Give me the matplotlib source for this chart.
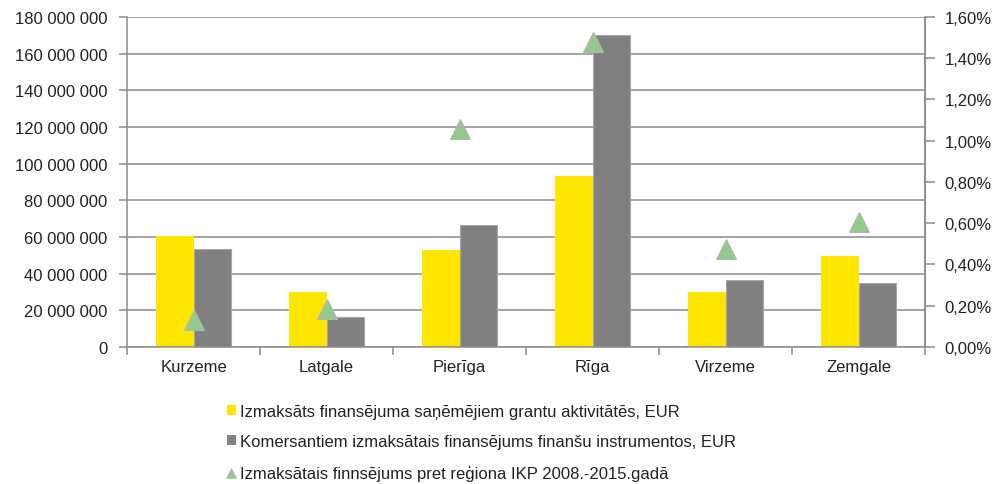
import matplotlib.pyplot as plt
import numpy as np
from matplotlib.ticker import FuncFormatter, MultipleLocator
from matplotlib.lines import Line2D
from matplotlib.patches import Patch

plt.rcParams['font.family'] = ['Liberation Sans', 'DejaVu Sans']

regions = ['Kurzeme', 'Latgale', 'Pierīga', 'Rīga', 'Virzeme', 'Zemgale']
grants_eur = [60500000, 30000000, 52900000, 93400000, 30000000, 49600000]
instruments_eur = [53400000, 16400000, 66500000, 170300000, 36500000, 34900000]
share_gdp = [0.0013, 0.00184, 0.01057, 0.0148, 0.00475, 0.00606]

label_grants = 'Izmaksāts finansējuma saņēmējiem grantu aktivitātēs, EUR'
label_instr = 'Komersantiem izmaksātais finansējums finanšu instrumentos, EUR'
label_share = 'Izmaksātais finnsējums pret reģiona IKP 2008.-2015.gadā'

yellow = '#ffe500'
gray = '#808080'
green = '#93c98b'
line_col = '#8c8c8c'
txt = '#222222'

fig = plt.figure(figsize=(10.01, 4.85), dpi=100)
ax = fig.add_axes([0.1269, 0.2825, 0.7972, 0.6804])

x = np.arange(len(regions))
w = 0.28
ax.bar(x - w / 2, grants_eur, w, color=yellow, zorder=2)
ax.bar(x + w / 2, instruments_eur, w, color=gray, edgecolor='#a6a6a6', linewidth=0.8, zorder=2)

ax.set_xlim(-0.5, len(regions) - 0.5)
ax.set_ylim(0, 180000000)
ax.yaxis.set_major_locator(MultipleLocator(20000000))
ax.yaxis.set_major_formatter(FuncFormatter(lambda v, p: f'{int(v):,}'.replace(',', ' ')))
ax.grid(axis='y', color=line_col, linewidth=1.1)
ax.set_axisbelow(True)

ax.set_xticks(x)
ax.set_xticklabels(regions)
ax.set_xticks(np.arange(-0.5, len(regions)), minor=True)
ax.tick_params(axis='x', which='major', length=0, pad=9, labelsize=12, labelcolor=txt)
ax.tick_params(axis='x', which='minor', length=6, width=1.1, color=line_col)
ax.tick_params(axis='y', length=6, width=1.1, color=line_col, pad=8, labelsize=12, labelcolor=txt)

ax.spines['top'].set_visible(False)
for s in ['left', 'right', 'bottom']:
    ax.spines[s].set_color(line_col)
    ax.spines[s].set_linewidth(1.1)

# second axis for the share of regional GDP
ax2 = ax.twinx()
ax2.plot(x, share_gdp, linestyle='none', marker='^', markersize=15,
         markerfacecolor=green, markeredgecolor='#b5b5b5', markeredgewidth=0.8, zorder=3)
ax2.set_ylim(0, 0.016)
ax2.yaxis.set_major_locator(MultipleLocator(0.002))
ax2.yaxis.set_major_formatter(FuncFormatter(lambda v, p: f'{v * 100:.2f}%'.replace('.', ',')))
ax2.tick_params(axis='y', length=7, width=1.1, color=line_col, pad=7, labelsize=12, labelcolor=txt)
for s in ['top', 'left', 'bottom']:
    ax2.spines[s].set_visible(False)
ax2.spines['right'].set_color(line_col)
ax2.spines['right'].set_linewidth(1.1)

handles = [
    Patch(facecolor=yellow, edgecolor='none'),
    Patch(facecolor=gray, edgecolor='none'),
    Line2D([], [], linestyle='none', marker='^', markersize=7,
           markerfacecolor=green, markeredgecolor='#b5b5b5', markeredgewidth=0.5),
]
fig.legend(handles, [label_grants, label_instr, label_share],
           loc='upper left', bbox_to_anchor=(0.220, 0.179), frameon=False,
           fontsize=12, handlelength=0.55, handleheight=0.55, handletextpad=0.25,
           labelspacing=0.92, labelcolor=txt, borderaxespad=0)

fig.savefig('out.png', dpi=100)
